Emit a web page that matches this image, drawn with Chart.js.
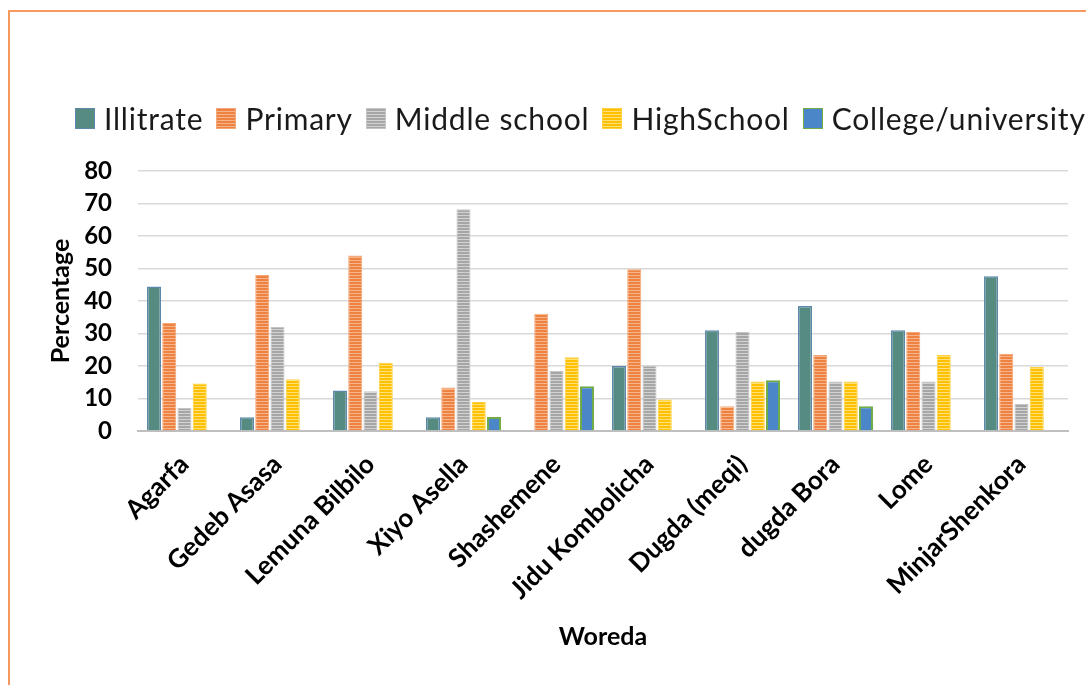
<!DOCTYPE html>
<html>
<head>
<meta charset="utf-8">
<script src="https://cdn.jsdelivr.net/npm/chart.js@4"></script>
<style>
  html, body { margin:0; padding:0; width:1086px; height:685px; overflow:hidden; background:#fff; }
  #frame { position:absolute; left:8px; top:10px; width:1200px; height:800px; border:2px solid #f5995c; box-sizing:border-box; }
  #wrap { position:absolute; left:0; top:0; width:1086px; height:685px; }
  #legend { position:absolute; left:75px; top:100px; display:flex; align-items:center; white-space:nowrap;
            font-family:Lato, "Noto Sans", sans-serif; font-size:30px; letter-spacing:0.8px; color:#1a1a1a; }
  #legend .item { display:flex; align-items:center; margin-right:13px; }
  #legend .box { width:20px; height:21px; margin-right:9px; box-sizing:border-box; }
</style>
</head>
<body>
<div id="frame"></div>
<div id="wrap"><canvas id="chart" width="1086" height="685"></canvas></div>
<div id="legend"></div>
<script>
const woredas = ['Agarfa', 'Gedeb Asasa', 'Lemuna Bilbilo', 'Xiyo Asella', 'Shashemene',
                 'Jidu Kombolicha', 'Dugda (meqi)', 'dugda Bora', 'Lome', 'MinjarShenkora'];
const illitrate = [44.5, 4.2, 12.5, 4.2, 0, 20, 31, 38.5, 31, 47.6];
const primary   = [33.2, 48, 54, 13.4, 36.1, 49.8, 7.6, 23.4, 30.5, 23.8];
const middle    = [7.1, 32, 12.2, 68.2, 18.5, 20, 30.5, 15.2, 15.2, 8.3];
const highSchool = [14.6, 15.9, 21, 8.9, 22.7, 9.7, 15.2, 15.2, 23.4, 19.7];
const college   = [0, 0, 0, 4.3, 13.8, 0, 15.6, 7.6, 0, 0];
const yTicks = [0, 10, 20, 30, 40, 50, 60, 70, 80];

const ctx = document.getElementById('chart').getContext('2d');

// excel style horizontal stripes
function stripes(base, light){
  const c = document.createElement('canvas');
  c.width = 4; c.height = 3;
  const g = c.getContext('2d');
  g.fillStyle = base; g.fillRect(0, 0, 4, 3);
  g.fillStyle = light; g.fillRect(0, 2, 4, 1);
  return ctx.createPattern(c, 'repeat');
}

const series = [
  { label:'Illitrate', data: illitrate, fill:'#568b82', css:'#568b82', border:'#5b88ab', bw:1.5 },
  { label:'Primary', data: primary, fill: stripes('#ee8240', '#f6b58c'), css:'repeating-linear-gradient(to bottom,#ee8240 0 2px,#f6b58c 2px 3px)', border:'#f3a677', bw:1 },
  { label:'Middle school', data: middle, fill: stripes('#a6a6a6', '#d2d2d2'), css:'repeating-linear-gradient(to bottom,#a6a6a6 0 2px,#d2d2d2 2px 3px)', border:'#c4c4c4', bw:1 },
  { label:'HighSchool', data: highSchool, fill: stripes('#ffc000', '#ffe07a'), css:'repeating-linear-gradient(to bottom,#ffc000 0 2px,#ffe07a 2px 3px)', border:'#ffd040', bw:1 },
  { label:'College/university', data: college, fill:'#4a86c8', css:'#4a86c8', border:'#70ad47', bw:2 }
];

const legendEl = document.getElementById('legend');
series.forEach(s => {
  const it = document.createElement('div');
  it.className = 'item';
  const b = document.createElement('span');
  b.className = 'box';
  b.style.background = s.css;
  b.style.border = '1px solid ' + s.border;
  const t = document.createElement('span');
  t.innerText = s.label;
  it.appendChild(b); it.appendChild(t);
  legendEl.appendChild(it);
});

const FONT = 'Lato, "Noto Sans", sans-serif';

new Chart(ctx, {
  type: 'bar',
  data: {
    labels: woredas,
    datasets: series.map(s => ({
      label: s.label, data: s.data,
      backgroundColor: s.fill, borderColor: s.border, borderWidth: s.bw,
      categoryPercentage: 0.82, barPercentage: 0.92
    }))
  },
  options: {
    responsive: false,
    animation: false,
    layout: { padding: { top: 171, left: 30, right: 18, bottom: 33 } },
    plugins: { legend: { display: false }, tooltip: { enabled: false } },
    scales: {
      x: {
        grid: { display: false },
        border: { color: '#bfbfbf', width: 2 },
        ticks: { color: '#000', font: { family: FONT, size: 26, weight: 'bold' }, minRotation: 45, maxRotation: 45, padding: 10 },
        title: { display: true, text: 'Woreda', color: '#000', font: { family: FONT, size: 25, weight: 'bold' }, padding: { top: 0, bottom: 0 } },
        afterFit: s => { s.height = 221; }
      },
      y: {
        min: 0, max: 80,
        afterBuildTicks: s => { s.ticks = yTicks.map(v => ({ value: v })); },
        grid: { color: '#d9d9d9', lineWidth: 1.5, drawTicks: false },
        border: { display: false },
        ticks: { color: '#000', font: { family: FONT, size: 24, weight: 'bold' }, padding: 26 },
        title: { display: true, text: 'Percentage', color: '#000', font: { family: FONT, size: 25, weight: 'bold' }, padding: { top: 16, bottom: 0 } },
        afterFit: s => { s.width = 108; }
      }
    }
  }
});
</script>
</body>
</html>
